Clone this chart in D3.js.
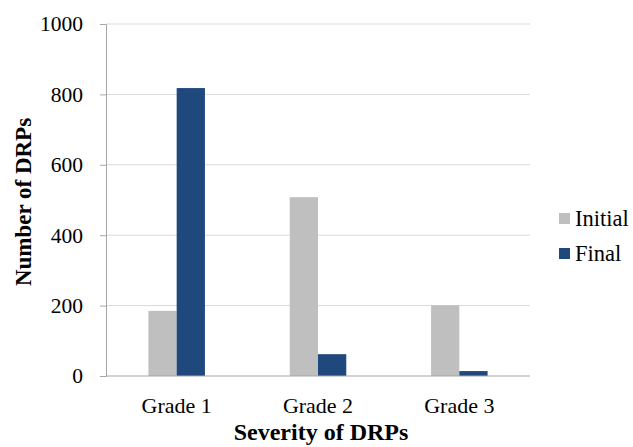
<!DOCTYPE html>
<html><head><meta charset="utf-8">
<script src="https://cdn.jsdelivr.net/npm/d3@7"></script>
<style>body{margin:0;background:#fff}svg{display:block}text{font-family:"Liberation Serif","Times New Roman",serif;fill:#000}</style>
</head><body><div id="chart"></div>
<script>
const categories = ["Grade 1", "Grade 2", "Grade 3"];
const seriesNames = ["Initial", "Final"];
const initialValues = [185, 508, 201];
const finalValues = [818, 62, 14];
const yTicks = [0, 200, 400, 600, 800, 1000];
const colors = ["#BFBFBF", "#1F497D"];

const W = 633, H = 447;
const m = {left: 106, right: 103, top: 24, bottom: 71};
const FONT = '"Liberation Serif","Times New Roman",serif';
const svg = d3.select("#chart").append("svg").attr("width", W).attr("height", H);
const pw = W - m.left - m.right, ph = H - m.top - m.bottom;
const g = svg.append("g").attr("transform", `translate(${m.left},${m.top})`);

const x = d3.scaleBand().domain(categories).range([0, pw]).paddingInner(0.6).paddingOuter(0.3);
const xs = d3.scaleBand().domain(seriesNames).range([0, x.bandwidth()]);
const y = d3.scaleLinear().domain([0, 1000]).range([ph, 0]);

// grid
g.selectAll("line.grid").data(yTicks.slice(1)).enter().append("line")
  .attr("x1", 0).attr("x2", pw).attr("y1", d => y(d)).attr("y2", d => y(d))
  .attr("stroke", "#d9d9d9").attr("stroke-width", 1);

const data = categories.map((c, i) => ({cat: c, vals: [initialValues[i], finalValues[i]]}));
const grp = g.selectAll("g.cat").data(data).enter().append("g").attr("transform", d => `translate(${x(d.cat)},0)`);
grp.selectAll("rect").data(d => d.vals.map((v, j) => ({v, s: seriesNames[j], j}))).enter().append("rect")
  .attr("x", d => xs(d.s)).attr("width", xs.bandwidth())
  .attr("y", d => y(d.v)).attr("height", d => ph - y(d.v))
  .attr("fill", d => colors[d.j]);

// y axis
const yAxis = d3.axisLeft(y).tickValues(yTicks).tickFormat(d3.format("d")).tickSize(6).tickPadding(17);
const ya = g.append("g").call(yAxis).attr("font-family", FONT).attr("font-size", 21.5);
ya.select(".domain").attr("stroke", "#a6a6a6");
ya.selectAll(".tick line").attr("stroke", "#a6a6a6");
ya.selectAll(".tick text").attr("fill", "#000");

// x axis
const xAxis = d3.axisBottom(x).tickSize(0).tickPadding(21);
const xa = g.append("g").attr("transform", `translate(0,${ph})`).call(xAxis).attr("font-family", FONT).attr("font-size", 22);
xa.select(".domain").attr("stroke", "#a6a6a6").attr("d", `M0,0H${pw}`);
xa.selectAll(".tick text").attr("fill", "#000");

// titles
svg.append("text").attr("transform", `translate(31,${m.top + ph/2 + 2}) rotate(-90)`)
  .attr("text-anchor", "middle").attr("font-family", FONT).style("font-size", "23px").style("font-weight", "bold").text("Number of DRPs");
svg.append("text").attr("x", m.left + pw/2 + 3).attr("y", 440)
  .attr("text-anchor", "middle").attr("font-family", FONT).style("font-size", "24px").style("font-weight", "bold").text("Severity of DRPs");

// legend
const lg = svg.append("g").attr("transform", "translate(559,0)");
seriesNames.forEach((s, i) => {
  const cy = 218 + i * 35;
  lg.append("rect").attr("x", 0).attr("y", cy - 5).attr("width", 11).attr("height", 11).attr("fill", colors[i]);
  lg.append("text").attr("x", 16).attr("y", cy + 8).attr("font-family", FONT).style("font-size", "22.5px").text(s);
});
</script></body></html>
